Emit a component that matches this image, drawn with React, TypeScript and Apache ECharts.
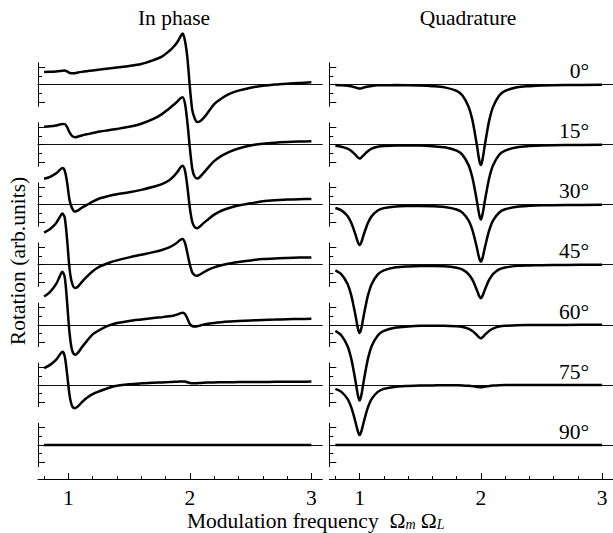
import React, { useEffect, useRef } from 'react';
import * as echarts from 'echarts';

// ---------- data ----------
const angleLabels = ['0°', '15°', '30°', '45°', '60°', '75°', '90°'];
const panelTitles = ['In phase', 'Quadrature'];
const xTickMajor = [1, 2, 3];
const xTickMinor = [0.8, 1.2, 1.4, 1.6, 1.8, 2.2, 2.4, 2.6, 2.8];
const yTickMajor = [-2, 0, 2];
const yTickMinor = [-1, 1];

const xsInPhase = [0.8, 0.85, 0.9, 0.93, 0.95, 0.97, 0.99, 1.01, 1.03, 1.055, 1.08, 1.11, 1.15, 1.2, 1.26, 1.33, 1.4, 1.5, 1.6, 1.7, 1.77, 1.83, 1.87, 1.9, 1.92, 1.94, 1.96, 1.98, 2.0, 2.02, 2.04, 2.06, 2.08, 2.11, 2.15, 2.2, 2.26, 2.33, 2.4, 2.5, 2.6, 2.7, 2.8, 2.9, 3.0];

const inPhase0 = [1.44, 1.46, 1.5, 1.54, 1.58, 1.6, 1.5, 1.34, 1.28, 1.3, 1.38, 1.45, 1.53, 1.62, 1.72, 1.84, 1.96, 2.12, 2.35, 2.8, 3.2, 3.85, 4.4, 4.95, 5.45, 5.85, 5.0, 3.0, -0.3, -2.95, -3.9, -4.3, -4.25, -3.9, -3.2, -2.25, -1.6, -1.05, -0.7, -0.37, -0.15, 0.0, 0.1, 0.18, 0.25];
const inPhase15 = [2.06, 2.1, 2.2, 2.3, 2.37, 2.35, 2.0, 1.4, 1.0, 0.85, 0.92, 1.05, 1.18, 1.32, 1.5, 1.65, 1.8, 2.05, 2.4, 2.95, 3.5, 4.15, 4.6, 5.0, 5.3, 5.45, 4.7, 2.5, -0.4, -2.8, -3.7, -3.9, -3.75, -3.3, -2.65, -1.9, -1.3, -0.8, -0.45, -0.1, 0.1, 0.22, 0.3, 0.35, 0.38];
const inPhase30 = [2.98, 3.2, 3.6, 4.0, 4.2, 3.9, 2.5, 0.5, -0.4, -0.8, -0.65, -0.35, -0.05, 0.35, 0.74, 1.0, 1.2, 1.42, 1.7, 2.05, 2.35, 2.8, 3.3, 3.8, 4.25, 4.48, 3.9, 2.0, -0.4, -2.0, -2.6, -2.7, -2.55, -2.15, -1.7, -1.15, -0.7, -0.35, -0.1, 0.15, 0.4, 0.52, 0.58, 0.63, 0.66];
const inPhase45 = [3.7, 4.1, 4.8, 5.5, 5.9, 5.4, 2.8, -0.5, -2.1, -2.68, -2.5, -2.0, -1.4, -0.75, -0.2, 0.2, 0.5, 0.85, 1.15, 1.45, 1.7, 2.0, 2.3, 2.6, 2.85, 2.95, 2.5, 1.3, 0.0, -0.9, -1.2, -1.26, -1.15, -0.9, -0.6, -0.3, -0.05, 0.15, 0.32, 0.5, 0.65, 0.73, 0.78, 0.82, 0.84];
const inPhase60 = [3.25, 3.8, 4.7, 5.6, 6.1, 5.5, 2.5, -1.0, -2.9, -3.45, -3.2, -2.6, -1.9, -1.1, -0.57, -0.1, 0.2, 0.45, 0.62, 0.78, 0.88, 0.98, 1.08, 1.2, 1.32, 1.4, 1.25, 0.7, 0.1, -0.15, -0.2, -0.18, -0.1, 0.02, 0.12, 0.22, 0.3, 0.37, 0.43, 0.5, 0.56, 0.6, 0.64, 0.67, 0.69];
const inPhase75 = [1.92, 2.3, 2.9, 3.5, 3.8, 3.3, 1.2, -1.2, -2.4, -2.68, -2.45, -2.0, -1.5, -1.05, -0.7, -0.35, -0.1, 0.08, 0.18, 0.25, 0.29, 0.32, 0.35, 0.37, 0.39, 0.4, 0.38, 0.3, 0.22, 0.18, 0.18, 0.2, 0.22, 0.25, 0.27, 0.29, 0.3, 0.31, 0.32, 0.33, 0.34, 0.35, 0.36, 0.37, 0.38];
const inPhase90 = [0, 0, 0, 0, 0, 0, 0, 0, 0, 0, 0, 0, 0, 0, 0, 0, 0, 0, 0, 0, 0, 0, 0, 0, 0, 0, 0, 0, 0, 0, 0, 0, 0, 0, 0, 0, 0, 0, 0, 0, 0, 0, 0, 0, 0];

const xsQuad = [0.8, 0.85, 0.9, 0.93, 0.95, 0.97, 0.98, 0.99, 1.0, 1.01, 1.02, 1.03, 1.05, 1.07, 1.1, 1.15, 1.2, 1.3, 1.4, 1.5, 1.6, 1.7, 1.8, 1.85, 1.9, 1.93, 1.95, 1.97, 1.98, 1.99, 2.0, 2.01, 2.02, 2.03, 2.05, 2.07, 2.1, 2.15, 2.2, 2.3, 2.4, 2.5, 2.7, 3.0];

const quad0 = [-0.05, -0.08, -0.14, -0.21, -0.28, -0.36, -0.41, -0.44, -0.47, -0.45, -0.42, -0.37, -0.29, -0.23, -0.16, -0.1, -0.08, -0.07, -0.09, -0.12, -0.19, -0.33, -0.74, -1.3, -2.6, -4.07, -5.55, -7.2, -8.14, -8.9, -9.25, -8.9, -8.14, -7.2, -5.55, -4.07, -2.6, -1.3, -0.74, -0.32, -0.19, -0.11, -0.06, -0.03];
const quad15 = [-0.14, -0.24, -0.46, -0.71, -0.96, -1.24, -1.4, -1.52, -1.6, -1.53, -1.4, -1.26, -0.98, -0.73, -0.47, -0.25, -0.17, -0.11, -0.11, -0.12, -0.19, -0.31, -0.7, -1.21, -2.41, -3.79, -5.16, -6.71, -7.57, -8.26, -8.6, -8.26, -7.57, -6.71, -5.16, -3.78, -2.41, -1.2, -0.69, -0.3, -0.17, -0.1, -0.05, -0.03];
const quad30 = [-0.38, -0.66, -1.31, -2.05, -2.79, -3.62, -4.08, -4.46, -4.65, -4.46, -4.09, -3.63, -2.8, -2.06, -1.32, -0.67, -0.4, -0.2, -0.15, -0.14, -0.17, -0.26, -0.55, -0.94, -1.85, -2.9, -3.95, -5.12, -5.78, -6.3, -6.56, -6.3, -5.78, -5.12, -3.94, -2.9, -1.84, -0.93, -0.53, -0.23, -0.13, -0.08, -0.04, -0.02];
const quad45 = [-0.64, -1.1, -2.2, -3.46, -4.72, -6.13, -6.9, -7.54, -7.86, -7.55, -6.92, -6.14, -4.72, -3.47, -2.21, -1.11, -0.65, -0.3, -0.19, -0.14, -0.15, -0.18, -0.35, -0.57, -1.1, -1.72, -2.32, -3.01, -3.39, -3.7, -3.85, -3.68, -3.37, -2.99, -2.3, -1.69, -1.07, -0.54, -0.31, -0.13, -0.08, -0.05, -0.02, -0.01];
const quad60 = [-0.7, -1.22, -2.44, -3.83, -5.22, -6.79, -7.66, -8.35, -8.7, -8.35, -7.66, -6.79, -5.22, -3.83, -2.44, -1.22, -0.7, -0.31, -0.19, -0.12, -0.11, -0.1, -0.17, -0.25, -0.46, -0.71, -0.94, -1.22, -1.37, -1.49, -1.56, -1.47, -1.35, -1.19, -0.92, -0.67, -0.43, -0.21, -0.12, -0.05, -0.03, -0.02, -0.01, 0];
const quad75 = [-0.46, -0.8, -1.61, -2.53, -3.45, -4.49, -5.06, -5.52, -5.75, -5.52, -5.06, -4.49, -3.45, -2.53, -1.61, -0.8, -0.46, -0.2, -0.12, -0.07, -0.06, -0.04, -0.05, -0.06, -0.1, -0.14, -0.18, -0.23, -0.25, -0.27, -0.28, -0.26, -0.24, -0.21, -0.16, -0.12, -0.08, -0.04, -0.02, -0.01, 0, 0, 0, 0];
const quad90 = [0, 0, 0, 0, 0, 0, 0, 0, 0, 0, 0, 0, 0, 0, 0, 0, 0, 0, 0, 0, 0, 0, 0, 0, 0, 0, 0, 0, 0, 0, 0, 0, 0, 0, 0, 0, 0, 0, 0, 0, 0, 0, 0, 0];

const inPhaseRows = [inPhase0, inPhase15, inPhase30, inPhase45, inPhase60, inPhase75, inPhase90];
const quadRows = [quad0, quad15, quad30, quad45, quad60, quad75, quad90];

// ---------- layout ----------
const FONT = 'Liberation Serif';
const FS = 21.5;
const XMIN = 0.75;
const XMAX = 3.09;
const panelLeft = [38, 329.3];
const panelWidth = 284.3;
const firstBaseline = 84.5;
const rowStep = 60.08;
const halfH = 21.75;
const bottomAxisY = 479;

function buildOption() {
  const grids: any[] = [];
  const xAxes: any[] = [];
  const yAxes: any[] = [];
  const series: any[] = [];
  const graphic: any[] = [];

  const panels = [
    { xs: xsInPhase, rows: inPhaseRows },
    { xs: xsQuad, rows: quadRows },
  ];

  panels.forEach((panel, p) => {
    panel.rows.forEach((vals, k) => {
      const gi = p * 7 + k;
      const base = firstBaseline + k * rowStep;
      grids.push({ left: panelLeft[p], width: panelWidth, top: base - halfH, height: 2 * halfH });
      xAxes.push({
        gridIndex: gi, type: 'value', min: XMIN, max: XMAX,
        axisLine: { show: true, onZero: true, lineStyle: { color: '#111', width: 1 } },
        axisTick: { show: false }, axisLabel: { show: false }, splitLine: { show: false },
      });
      yAxes.push({
        gridIndex: gi, type: 'value', min: -2.5, max: 2.5, position: 'left',
        axisLine: { show: true, onZero: false, lineStyle: { color: '#000', width: 1 } },
        axisTick: { show: true, inside: true, length: 7, customValues: yTickMajor, lineStyle: { color: '#000', width: 1 } },
        axisLabel: { show: false }, splitLine: { show: false },
      });
      series.push({
        type: 'line', xAxisIndex: gi, yAxisIndex: gi,
        data: panel.xs.map((x, i) => [x, vals[i]]),
        showSymbol: false, symbol: 'none', smooth: 0.3, clip: false,
        lineStyle: { color: '#000', width: 2.5 }, z: 5,
      });
    });
  });

  // minor y ticks (indices 14..27)
  for (let gi = 0; gi < 14; gi++) {
    yAxes.push({
      gridIndex: gi, type: 'value', min: -2.5, max: 2.5, position: 'left',
      axisLine: { show: false, onZero: false },
      axisTick: { show: true, inside: true, length: 4, customValues: yTickMinor, lineStyle: { color: '#000', width: 1 } },
      axisLabel: { show: false }, splitLine: { show: false },
    });
  }

  // bottom axes grids (14, 15)
  [0, 1].forEach((p) => {
    const gi = 14 + p;
    grids.push({ left: panelLeft[p], width: panelWidth, top: bottomAxisY - 12, height: 12 });
    yAxes.push({ gridIndex: gi, type: 'value', min: 0, max: 1, show: false });
  });
  [0, 1].forEach((p) => {
    xAxes.push({
      gridIndex: 14 + p, type: 'value', min: XMIN, max: XMAX, position: 'bottom',
      axisLine: { show: true, onZero: false, lineStyle: { color: '#000', width: 1 } },
      axisTick: { show: true, inside: true, length: 6, customValues: xTickMajor, lineStyle: { color: '#000', width: 1 } },
      axisLabel: { show: true, customValues: xTickMajor, fontSize: FS, fontFamily: FONT, color: '#000', margin: 8 },
      splitLine: { show: false },
    });
  });
  [0, 1].forEach((p) => {
    xAxes.push({
      gridIndex: 14 + p, type: 'value', min: XMIN, max: XMAX, position: 'bottom',
      axisLine: { show: false, onZero: false },
      axisTick: { show: true, inside: true, length: 3, customValues: xTickMinor, lineStyle: { color: '#000', width: 1 } },
      axisLabel: { show: false }, splitLine: { show: false },
    });
  });

  // titles
  const titleX = [174, 468];
  panelTitles.forEach((t, p) => {
    graphic.push({
      type: 'text', x: titleX[p], y: 18,
      style: { text: t, font: `${FS}px "${FONT}"`, fill: '#000', align: 'center', verticalAlign: 'middle' },
    });
  });
  angleLabels.forEach((t, k) => {
    graphic.push({
      type: 'text', x: 589, y: firstBaseline + k * rowStep - 13.3,
      style: { text: t, font: `${FS}px "${FONT}"`, fill: '#000', align: 'right', verticalAlign: 'middle' },
    });
  });
  graphic.push({
    type: 'text', x: 18, y: 261, rotation: Math.PI / 2,
    style: { text: 'Rotation (arb.units)', font: `${FS}px "${FONT}"`, fill: '#000', align: 'center', verticalAlign: 'middle' },
  });
  graphic.push({
    type: 'text', x: 187, y: 521,
    style: {
      text: '{a|Modulation frequency  Ω}{s|m}{a| Ω}{s|L}',
      fill: '#000', align: 'left', verticalAlign: 'middle',
      rich: {
        a: { fontSize: FS, fontFamily: FONT, fill: '#000', lineHeight: 20 },
        s: { fontSize: 14, fontFamily: FONT, fontStyle: 'italic', fill: '#000', lineHeight: 10, verticalAlign: 'bottom' },
      },
    },
  });

  return {
    animation: false,
    backgroundColor: '#fff',
    textStyle: { fontFamily: FONT },
    grid: grids,
    xAxis: xAxes,
    yAxis: yAxes,
    series,
    graphic,
  };
}

export default function App() {
  const ref = useRef<HTMLDivElement>(null);
  useEffect(() => {
    if (!ref.current) return;
    const chart = echarts.init(ref.current, null, { renderer: 'svg' });
    chart.setOption(buildOption() as any);
    return () => chart.dispose();
  }, []);
  return (
    <div
      ref={ref}
      style={{ position: 'fixed', left: 0, top: 0, width: 613, height: 533, background: '#fff' }}
    />
  );
}
